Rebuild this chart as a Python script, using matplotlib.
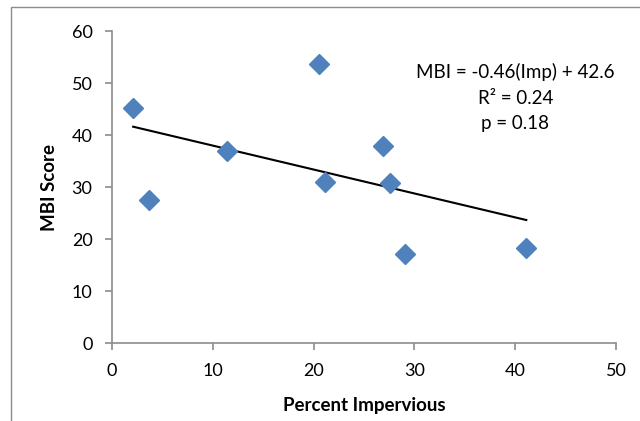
import numpy as np
import matplotlib.pyplot as plt
from matplotlib.patches import Rectangle

plt.rcParams['font.family'] = ['Lato', 'DejaVu Sans']

# values
pct_impervious = [2.1, 3.7, 11.4, 20.5, 21.1, 26.9, 27.6, 29.1, 41.1]
mbi_score = [45.3, 27.5, 37.0, 53.6, 31.0, 38.0, 30.8, 17.1, 18.3]
slope = -0.46
intercept = 42.6
r_squared = 0.24
p_value = 0.18

fig = plt.figure(figsize=(6.4, 4.21), dpi=100)
ax = fig.add_axes([0.175, 0.1846, 0.7875, 0.7414])

# outer chart border
fig.patches.append(Rectangle((11 / 640, -0.1), 1.2, 1 - 7 / 421 + 0.1,
                             transform=fig.transFigure, fill=False,
                             edgecolor='#8c8c8c', linewidth=1.0))

ax.plot(pct_impervious, mbi_score, linestyle='none', marker='D',
        markersize=10, color='#4F81BD', markeredgecolor='#4F81BD', zorder=3)

x_fit = np.array([min(pct_impervious), max(pct_impervious)])
ax.plot(x_fit, slope * x_fit + intercept, color='black', linewidth=1.5, zorder=2)

ax.text(40.0, 53.8, 'MBI = %.2f(Imp) + %.1f\nR² = %.2f\np = %.2f'
        % (slope, intercept, r_squared, p_value),
        ha='center', va='top', fontsize=13.5, linespacing=1.6)

ax.set_xlim(0, 50)
ax.set_ylim(0, 60)
ax.set_xticks([0, 10, 20, 30, 40, 50])
ax.set_yticks([0, 10, 20, 30, 40, 50, 60])
for side in ['top', 'right']:
    ax.spines[side].set_visible(False)
for side in ['left', 'bottom']:
    ax.spines[side].set_color('#8c8c8c')
    ax.spines[side].set_linewidth(1.2)
ax.tick_params(direction='out', length=5, width=1.2, color='#8c8c8c',
               labelsize=13)
ax.tick_params(axis='x', pad=9)
ax.tick_params(axis='y', pad=9)

ax.set_xlabel('Percent Impervious', fontsize=13.5, fontweight='bold', labelpad=13)
ax.set_ylabel('MBI Score', fontsize=13.5, fontweight='bold', labelpad=10)

plt.savefig('out.png', dpi=100)
